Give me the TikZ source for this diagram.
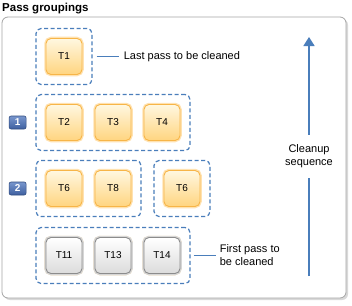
\documentclass[tikz,border=0pt]{standalone}
\usepackage{fontspec}
\setmainfont{Liberation Sans}
\usetikzlibrary{positioning, fit, shadows, arrows.meta}
\definecolor{grpblue}{RGB}{74,126,187}
\definecolor{passedge}{RGB}{247,181,72}
\definecolor{passglow}{RGB}{255,226,176}
\definecolor{passtop}{RGB}{255,247,224}
\definecolor{passbot}{RGB}{255,213,128}
\definecolor{doneedge}{RGB}{140,140,140}
\definecolor{doneglow}{RGB}{214,214,214}
\definecolor{donebot}{RGB}{220,220,220}
\definecolor{badgetop}{RGB}{120,150,205}
\definecolor{badgebot}{RGB}{62,96,160}
\definecolor{frameedge}{RGB}{165,165,165}

\begin{document}
\begin{tikzpicture}[x=1pt, y=-1pt, node distance=30pt and 13pt,
  pass/.style={rectangle, rounded corners=5pt, draw=passedge, line width=0.9pt,
    top color=passtop, bottom color=passbot, minimum width=36pt, minimum height=36pt,
    outer sep=0pt, inner sep=0pt, font=\fontsize{10}{12}\selectfont,
    preaction={draw=passglow, line width=3.5pt}},
  done/.style={pass, draw=doneedge, top color=white, bottom color=donebot,
    preaction={draw=doneglow, line width=3.5pt}},
  group/.style={rectangle, rounded corners=5pt, draw=grpblue, line width=1.2pt,
    dash pattern=on 4pt off 2.5pt, inner sep=10pt},
  badge/.style={rectangle, rounded corners=2pt, draw=badgebot!80!black, line width=0.6pt,
    top color=badgetop, bottom color=badgebot, text=white, minimum width=17pt,
    minimum height=13pt, inner sep=0pt, font=\bfseries\fontsize{10}{11}\selectfont},
  lbl/.style={inner sep=2pt, align=left, font=\fontsize{11}{13}\selectfont},
  link/.style={draw=grpblue, line width=1.2pt},
  seqarrow/.style={draw=grpblue, line width=1.5pt, -{Triangle[width=11pt, length=9pt]}}
]
\useasboundingbox (0,0) rectangle (352,305);
\node[anchor=base west, inner sep=0pt, font=\bfseries\fontsize{11.5}{13}\selectfont] (title) at (2,12) {Pass groupings};
\draw[frameedge, line width=0.8pt, rounded corners=6pt, fill=white,
  drop shadow={shadow xshift=2pt, shadow yshift=-2pt, fill=black!25, opacity=0.6}] (2,17) rectangle (346,298);

% passes
\node[pass] (t1) at (64,56.5) {T1};
\node[pass, below=30pt of t1] (t2) {T2};
\node[pass, right=of t2] (t3) {T3};
\node[pass, right=of t3] (t4) {T4};
\node[pass, below=30pt of t2] (t6) {T6};
\node[pass, right=of t6] (t8) {T8};
\node[pass, right=33pt of t8] (t6b) {T6};
\node[done, below=31pt of t6] (t11) {T11};
\node[done, right=of t11] (t13) {T13};
\node[done, right=of t13] (t14) {T14};

% groupings
\node[group, fit=(t1)] (g1) {};
\node[group, fit=(t2)(t4)] (g2) {};
\node[group, fit=(t6)(t8)] (g3) {};
\node[group, fit=(t6b)] (g3b) {};
\node[group, fit=(t11)(t14)] (g4) {};

\node[badge, left=9pt of g2] (b1) {1};
\node[badge, left=9pt of g3] (b2) {2};

% labels
\node[lbl, anchor=west, right=29pt of g1] (lastlbl) {Last pass to be cleaned};
\draw[link] ([xshift=4pt]g1.east) -- ([xshift=-3pt]lastlbl.west);
\node[lbl, anchor=west, right=27pt of g4] (firstlbl) {First pass to\\be cleaned};
\draw[link] ([xshift=3pt]g4.east) -- ([xshift=-2pt]firstlbl.west);

% cleanup order
\coordinate (seqbot) at (309,276);
\coordinate (seqtop) at (309,37);
\draw[seqarrow] (seqbot) -- node[lbl, fill=white, align=center, inner xsep=1pt, inner ysep=10pt] (seqlbl) {Cleanup\\sequence} (seqtop);
\end{tikzpicture}
\end{document}
